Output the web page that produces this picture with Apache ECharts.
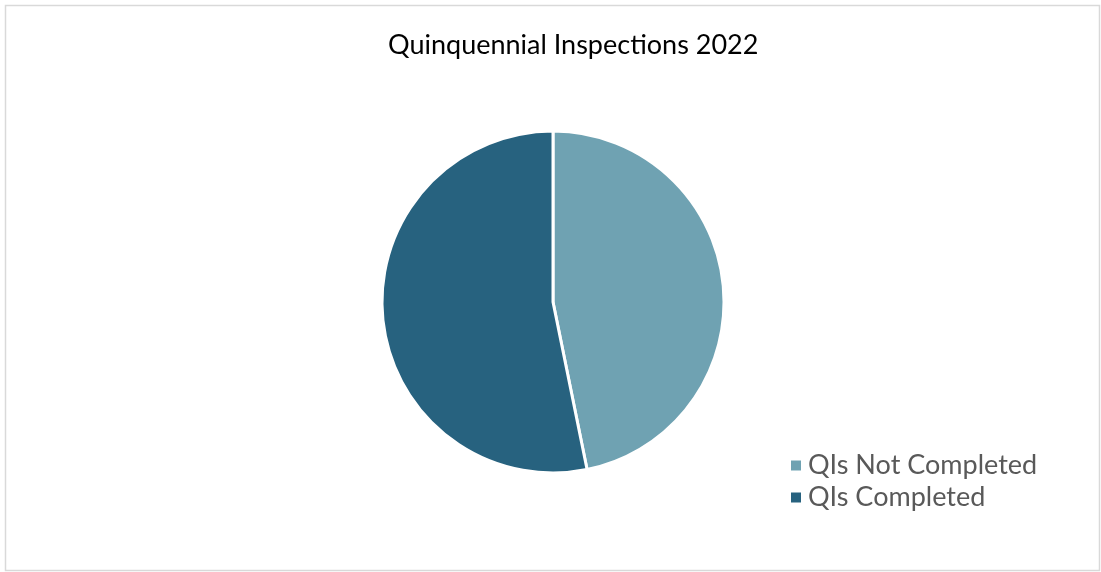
<!DOCTYPE html>
<html>
<head>
<meta charset="utf-8">
<script src="https://cdn.jsdelivr.net/npm/echarts@6/dist/echarts.min.js"></script>
<style>
  html, body { margin: 0; padding: 0; background: #fff; }
  #chart { width: 1101px; height: 572px; }
</style>
</head>
<body>
<div id="chart"></div>
<script>
// Inspection status counts for 2022
const categories = ['QIs Not Completed', 'QIs Completed'];
const values = [44, 50];
const colors = ['#6fa2b2', '#27627f'];

const chart = echarts.init(document.getElementById('chart'), null, { renderer: 'canvas' });

chart.setOption({
  backgroundColor: '#ffffff',
  animation: false,
  title: {
    text: 'Quinquennial Inspections 2022',
    left: 383,
    top: 27,
    textStyle: {
      fontFamily: 'Lato',
      fontSize: 27,
      fontWeight: 'normal',
      color: '#000000'
    }
  },
  graphic: [{
    type: 'rect',
    shape: { x: 5.5, y: 5.5, width: 1094, height: 565 },
    style: { fill: 'none', stroke: '#d9d9d9', lineWidth: 1.5 },
    silent: true
  }],
  legend: {
    orient: 'vertical',
    left: 784,
    top: 447,
    itemWidth: 12,
    itemHeight: 12,
    itemGap: 5,
    icon: 'rect',
    textStyle: {
      fontFamily: 'Lato',
      fontSize: 27,
      color: '#595959',
      padding: [0, 0, 0, 1]
    },
    data: categories
  },
  series: [{
    type: 'pie',
    center: [553, 302],
    radius: [0, 171],
    startAngle: 90,
    clockwise: true,
    label: { show: false },
    labelLine: { show: false },
    itemStyle: { borderColor: '#ffffff', borderWidth: 3 },
    emphasis: { disabled: true },
    data: categories.map((name, i) => ({
      name: name,
      value: values[i],
      itemStyle: { color: colors[i] }
    }))
  }]
});
</script>
</body>
</html>
